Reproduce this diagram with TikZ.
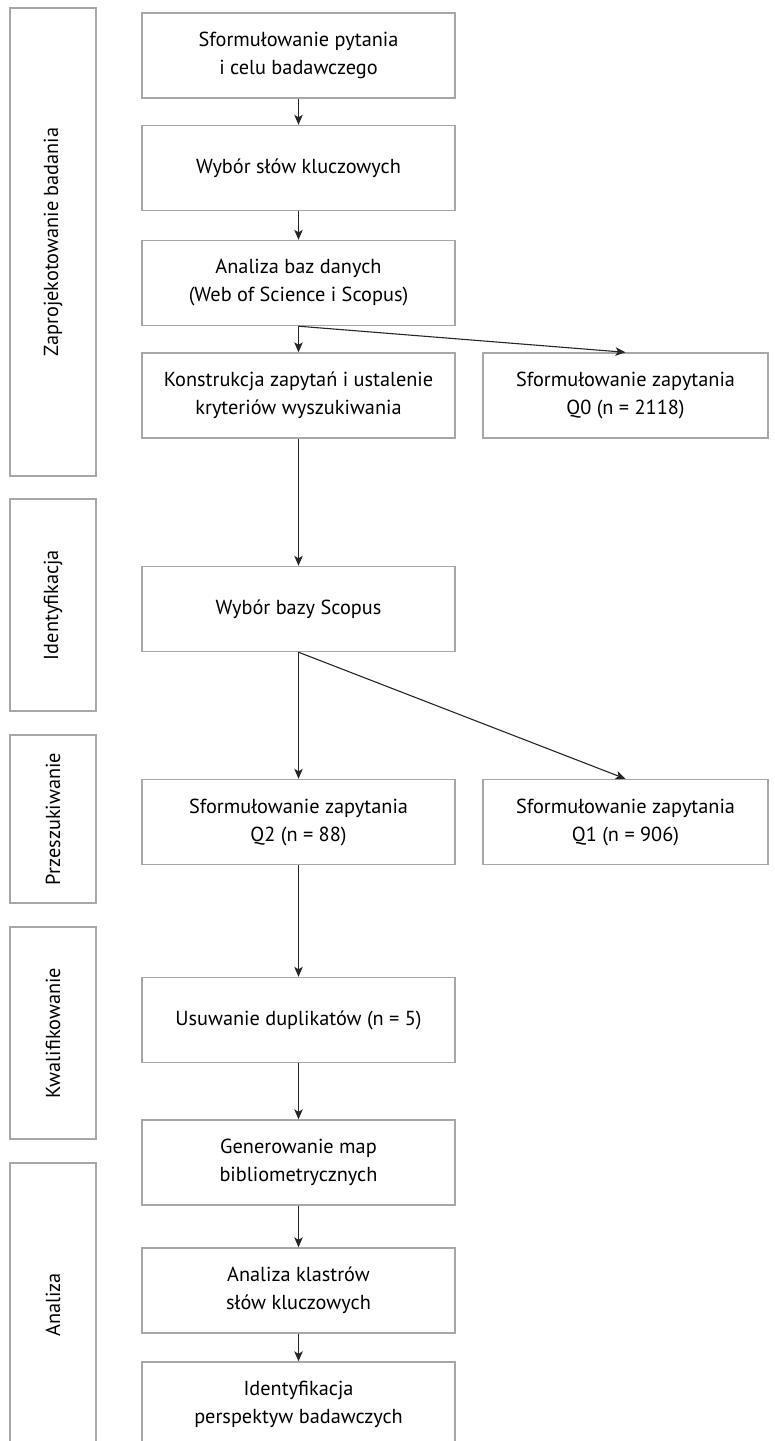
\documentclass[tikz,border=0pt]{standalone}
\usepackage{fontspec}
\setmainfont{PT Sans}
\usetikzlibrary{arrows.meta}

\definecolor{framegray}{RGB}{167,167,171}

\begin{document}
\begin{tikzpicture}[x = 1pt, y = -1pt, >={Stealth[length=10pt, width=8.5pt, inset=2.5pt]},
	box/.style = {draw = framegray, line width = 1.4pt, minimum width = 313pt, minimum height = 85pt, align = center, inner sep = 0pt, font = \fontsize{20.3}{28}\selectfont},
	sidebox/.style = {box, minimum width = 285pt},
	phase/.style = {draw = framegray, line width = 1.4pt, rotate = 90, minimum height = 86pt, inner sep = 0pt, font = \fontsize{20.3}{28}\selectfont},
	flow/.style = {->, black!85, line width = 1.1pt}]
	%	page
	\useasboundingbox (0, 0) rectangle (775, 1441);
	\clip (0, 0) rectangle (775, 1441);
	
	\def\xmain{298.5}
	\def\xside{625.5}
	\def\xphase{53}
	
	%	phases
	\node[phase, minimum width = 468pt] (ph1) at (\xphase, 242) {Zaprojekotowanie badania};
	\node[phase, minimum width = 212pt] (ph2) at (\xphase, 605) {Identyfikacja};
	\node[phase, minimum width = 168pt] (ph3) at (\xphase, 819) {Przeszukiwanie};
	\node[phase, minimum width = 212pt] (ph4) at (\xphase, 1033) {Kwalifikowanie};
	\node[phase, minimum width = 284pt] (ph5) at (\xphase, 1305) {Analiza};
	
	%	main column
	\node[box] (pytanie) at (\xmain, 55.5) {Sformułowanie pytania\\ i celu badawczego};
	\node[box] (slowa) at (\xmain, 168) {Wybór słów kluczowych};
	\node[box] (bazy) at (\xmain, 283) {Analiza baz danych\\ (Web of Science i Scopus)};
	\node[box] (kryteria) at (\xmain, 395.5) {Konstrukcja zapytań i ustalenie\\ kryteriów wyszukiwania};
	\node[box] (scopus) at (\xmain, 609) {Wybór bazy Scopus};
	\node[box] (qdwa) at (\xmain, 822) {Sformułowanie zapytania\\ Q2 (n = 88)};
	\node[box] (duplikaty) at (\xmain, 1020) {Usuwanie duplikatów (n = 5)};
	\node[box] (mapy) at (\xmain, 1162.5) {Generowanie map\\ bibliometrycznych};
	\node[box] (klastry) at (\xmain, 1290.5) {Analiza klastrów\\ słów kluczowych};
	\node[box] (perspektywy) at (\xmain, 1404.5) {Identyfikacja\\ perspektyw badawczych};
	
	%	side column
	\node[sidebox] (qzero) at (\xside, 395.5) {Sformułowanie zapytania\\ Q0 (n = 2118)};
	\node[sidebox] (qjeden) at (\xside, 822) {Sformułowanie zapytania\\ Q1 (n = 906)};
	
	%	arrows
	\draw[flow] (pytanie) -- (slowa);
	\draw[flow] (slowa) -- (bazy);
	\draw[flow] (bazy) -- (kryteria);
	\draw[flow] (bazy.south) -- (qzero.north);
	\draw[flow] (kryteria) -- (scopus);
	\draw[flow] (scopus) -- (qdwa);
	\draw[flow] (scopus.south) -- (qjeden.north);
	\draw[flow] (qdwa) -- (duplikaty);
	\draw[flow] (duplikaty) -- (mapy);
	\draw[flow] (mapy) -- (klastry);
	\draw[flow] (klastry) -- (perspektywy);
\end{tikzpicture}
\end{document}
